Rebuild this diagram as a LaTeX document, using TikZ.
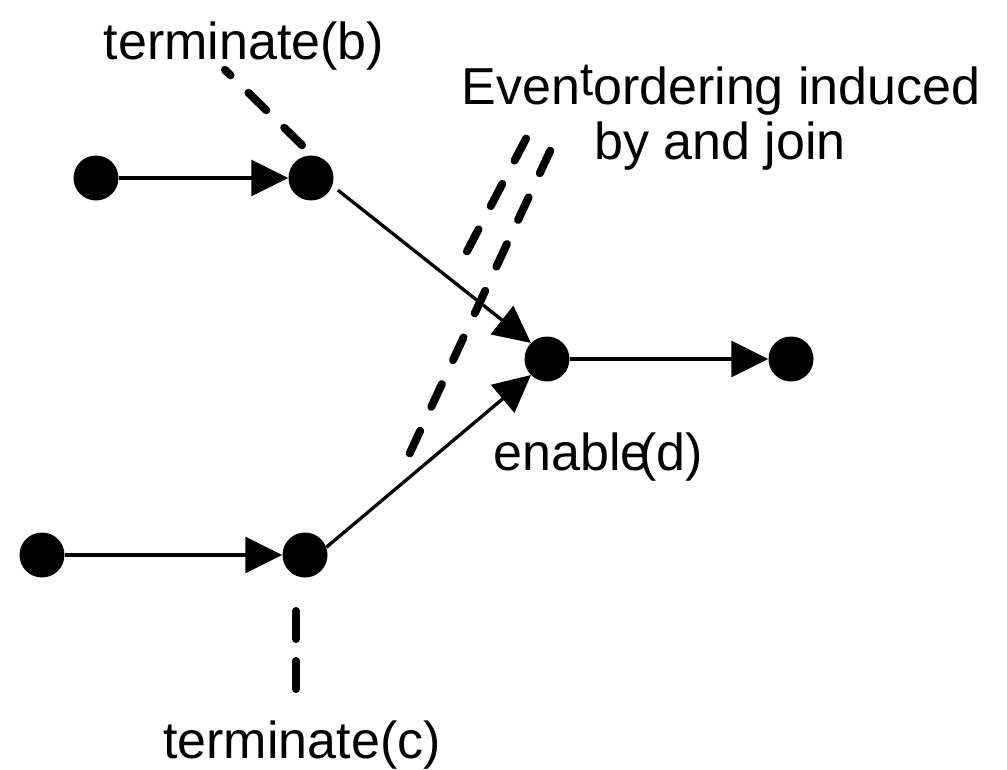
\documentclass[tikz,border=0pt]{standalone}
\usepackage{fontspec}
\setmainfont{Liberation Sans}
\usetikzlibrary{arrows.meta}
\begin{document}
\begin{tikzpicture}[x=1pt,y=-1pt,
  dot/.style={circle,fill=black,inner sep=0pt,minimum size=45pt},
  conn/.style={line width=3.3pt,-{Triangle[length=37pt,width=36pt]}},
  cut/.style={line width=8pt,line cap=round,dash pattern=on 25pt off 26.5pt},
  lbl/.style={font=\fontsize{52}{58}\selectfont,inner sep=0pt,anchor=base}]
\useasboundingbox (0,0) rectangle (1007,770);
\node[dot] (a1) at (96,178) {};
\node[dot] (b) at (311,178) {};
\node[dot] (a2) at (42,555) {};
\node[dot] (c) at (305,555) {};
\node[dot] (d) at (547,359) {};
\node[dot] (e) at (791,359) {};
\draw[conn] (a1) -- (b);
\draw[conn] (a2) -- (c);
\draw[conn] (d) -- (e);
\draw[conn,shorten <=7pt] (b.-20) -- (d.135);
\draw[conn] (c.20) -- (d.-135);
% cut lines
\coordinate (tb1) at (302.1,145.2);
\coordinate (tb2) at (224.9,69.8);
\draw[cut,dash pattern=on 25pt off 25pt] (tb1) -- (tb2);
\coordinate (tc1) at (296,611);
\coordinate (tc2) at (296,689);
\draw[cut,dash pattern=on 28pt off 22pt] (tc1) -- (tc2);
\coordinate (j1) at (550.3,150.6);
\coordinate (j2) at (409.7,453.4);
\draw[cut] (j1) -- (j2);
\coordinate (k1) at (526.1,138.5);
\coordinate (k2) at (466.9,251.5);
\draw[cut,dash pattern=on 25pt off 26.25pt] (k1) -- (k2);
% labels
\node[lbl] (tb) at (244,60) {terminate(b)};
\node[lbl] (tc) at (302,758) {terminate(c)};
\node[lbl] (en) at (598,470) {enable\kern-0.2em(d)};
\node[lbl] (ev1) at (721,105) {Even\raisebox{9pt}{\fontsize{47}{47}\selectfont t}ordering induced};
\node[lbl] (ev2) at (720,160) {by and join};
\end{tikzpicture}
\end{document}
